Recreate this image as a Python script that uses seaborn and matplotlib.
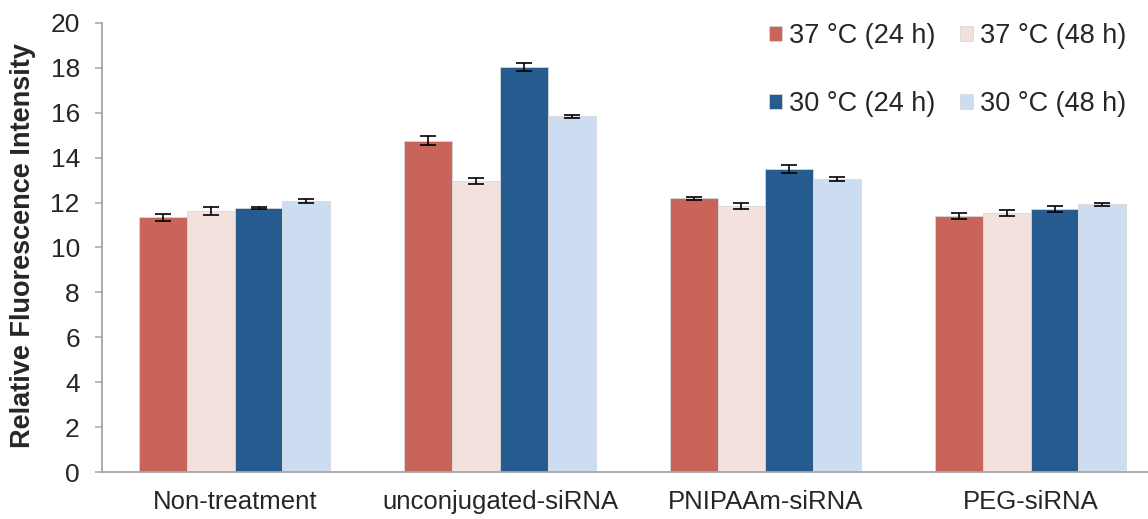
import numpy as np
import pandas as pd
import matplotlib
matplotlib.use("Agg")
import matplotlib.pyplot as plt
import seaborn as sns

# Data
categories = ["Non-treatment", "unconjugated-siRNA", "PNIPAAm-siRNA", "PEG-siRNA"]
conditions = ["37 °C (24 h)", "37 °C (48 h)", "30 °C (24 h)", "30 °C (48 h)"]
means = {
    "37 °C (24 h)": [11.35, 14.76, 12.19, 11.40],
    "37 °C (48 h)": [11.63, 12.96, 11.85, 11.55],
    "30 °C (24 h)": [11.76, 18.04, 13.50, 11.71],
    "30 °C (48 h)": [12.07, 15.84, 13.05, 11.92],
}
errors = {
    "37 °C (24 h)": [0.16, 0.19, 0.07, 0.12],
    "37 °C (48 h)": [0.18, 0.12, 0.13, 0.13],
    "30 °C (24 h)": [0.05, 0.20, 0.16, 0.12],
    "30 °C (48 h)": [0.09, 0.08, 0.08, 0.06],
}
colors = ["#C9645A", "#F2E1DD", "#265B90", "#CCDDF1"]

rows = []
for cond in conditions:
    for cat, m, e in zip(categories, means[cond], errors[cond]):
        rows.append({"category": cat, "condition": cond, "value": m, "err": e})
df = pd.DataFrame(rows)

sns.set_style("white")
plt.rcParams["font.family"] = ["Liberation Sans", "DejaVu Sans"]

fig = plt.figure(figsize=(11.48, 5.19), dpi=100)
ax = fig.add_axes([102 / 1148, 1 - 472 / 519, 1 - 102 / 1148, (472 - 23) / 519])

sns.barplot(data=df, x="category", y="value", hue="condition",
            order=categories, hue_order=conditions, palette=colors,
            width=0.72, errorbar=None, edgecolor="#d8d8d8", linewidth=0.6,
            saturation=1, ax=ax)

# Error bars on each bar, taken from the drawn bar geometry
for cond, container in zip(conditions, ax.containers):
    xs = [p.get_x() + p.get_width() / 2 for p in container.patches]
    ax.errorbar(xs, means[cond], yerr=errors[cond], fmt="none",
                ecolor="black", elinewidth=1.2, capsize=5.5, capthick=1.2,
                zorder=5)

ax.set_ylim(0, 20)
ax.set_yticks(np.arange(0, 21, 2))
ax.set_xlim(-0.5, (1148 - 233.5) / 265.3 - 0.005)
ax.set_xlabel("")
ax.set_ylabel("Relative Fluorescence Intensity", fontsize=19.5,
              fontweight="bold")
ax.yaxis.set_label_coords(-0.063, 0.505)

for s in ["top", "right"]:
    ax.spines[s].set_visible(False)
for s in ["left", "bottom"]:
    ax.spines[s].set_color("#a6a6a6")
    ax.spines[s].set_linewidth(1.3)

ax.tick_params(axis="y", direction="out", length=5, width=1.1,
               color="#a6a6a6", labelsize=19, pad=11, left=True)
ax.tick_params(axis="x", length=0, labelsize=18.5, pad=13)

# Legend: two rows, two columns
handles, labels = ax.get_legend_handles_labels()
order = [0, 2, 1, 3]
ax.legend([handles[i] for i in order], [labels[i] for i in order],
          ncol=2, frameon=False, fontsize=19.5,
          loc="upper left", bbox_to_anchor=(769 / 1148, 1 - 23 / 519),
          bbox_transform=fig.transFigure, borderpad=0, borderaxespad=0,
          labelspacing=1.55, columnspacing=0.9, handlelength=0.48,
          handleheight=0.48, handletextpad=0.26)

fig.savefig("out.png", dpi=100)
